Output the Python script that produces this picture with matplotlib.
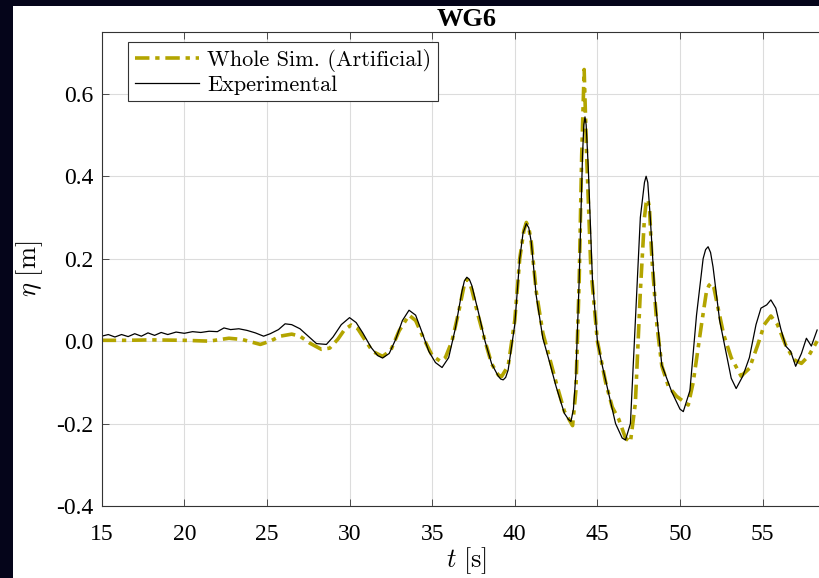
import matplotlib
matplotlib.use('Agg')
import matplotlib.pyplot as plt
from matplotlib.patches import Rectangle

# Experimental record (black)
t_exp = [15.0, 15.4, 15.8, 16.2, 16.6, 17.0, 17.4, 17.8, 18.2, 18.6, 19.0, 19.5, 20.0, 20.5,
         21.0, 21.5, 22.0, 22.4, 22.8, 23.3, 23.8, 24.3, 24.8, 25.2, 25.7, 26.1, 26.5, 27.0,
         27.5, 28.0, 28.6, 29.0, 29.5, 30.0, 30.4, 30.8, 31.3, 31.7, 32.0, 32.4, 32.8, 33.2,
         33.6, 34.0, 34.4, 34.8, 35.2, 35.6, 36.0, 36.4, 36.8, 36.95, 37.1, 37.25, 37.4, 37.8,
         38.2, 38.6, 39.0, 39.15, 39.3, 39.45, 39.6, 40.0, 40.3, 40.5, 40.7, 40.85, 41.0, 41.3,
         41.7, 42.1, 42.5, 43.0, 43.25, 43.4, 43.55, 43.7, 43.9, 44.1, 44.18, 44.25, 44.32,
         44.45, 44.7, 45.0, 45.3, 45.7, 46.1, 46.5, 46.7, 47.0, 47.3, 47.6, 47.85, 47.95, 48.05,
         48.2, 48.5, 48.9, 49.5, 50.0, 50.2, 50.6, 51.0, 51.4, 51.55, 51.7, 51.85, 52.0, 52.4,
         52.8, 53.1, 53.4, 53.8, 54.2, 54.6, 54.9, 55.25, 55.5, 55.8, 56.1, 56.4, 56.7, 57.0,
         57.35, 57.65, 57.95, 58.3]
eta_exp = [0.012, 0.016, 0.010, 0.016, 0.011, 0.018, 0.012, 0.020, 0.014, 0.021, 0.016, 0.022,
           0.019, 0.023, 0.021, 0.024, 0.023, 0.032, 0.028, 0.030, 0.026, 0.020, 0.012, 0.018,
           0.028, 0.042, 0.040, 0.030, 0.012, -0.006, -0.008, 0.010, 0.040, 0.057, 0.045, 0.020,
           -0.015, -0.035, -0.041, -0.030, 0.005, 0.050, 0.075, 0.063, 0.020, -0.025, -0.052,
           -0.064, -0.040, 0.030, 0.120, 0.146, 0.155, 0.150, 0.135, 0.070, 0.000, -0.055,
           -0.085, -0.092, -0.094, -0.088, -0.070, 0.040, 0.200, 0.262, 0.285, 0.275, 0.240,
           0.110, 0.007, -0.050, -0.110, -0.175, -0.190, -0.195, -0.165, -0.080, 0.150, 0.450,
           0.525, 0.544, 0.525, 0.420, 0.150, 0.000, -0.060, -0.130, -0.200, -0.235, -0.240,
           -0.200, 0.050, 0.300, 0.385, 0.400, 0.385, 0.300, 0.100, -0.058, -0.123, -0.165,
           -0.171, -0.120, 0.063, 0.200, 0.222, 0.229, 0.215, 0.180, 0.050, -0.030, -0.090,
           -0.115, -0.085, -0.040, 0.040, 0.080, 0.088, 0.100, 0.080, 0.030, -0.012, -0.025,
           -0.061, -0.030, 0.007, -0.012, 0.027]

# Whole simulation, artificial (yellow)
t_sim = [15.0, 16.5, 18.0, 20.0, 21.5, 22.7, 23.5, 24.6, 25.2, 25.8, 26.5, 27.0, 27.6, 28.3,
         28.8, 29.3, 29.7, 30.1, 30.5, 30.9, 31.4, 32.0, 32.5, 33.0, 33.6, 34.0, 34.5, 35.0,
         35.5, 35.8, 36.2, 36.6, 36.95, 37.1, 37.25, 37.4, 37.8, 38.2, 38.6, 39.0, 39.2, 39.6,
         40.0, 40.3, 40.55, 40.7, 40.85, 41.0, 41.3, 41.7, 42.1, 42.5, 43.0, 43.5, 43.7, 43.9,
         44.05, 44.2, 44.35, 44.6, 45.0, 45.5, 45.9, 46.3, 46.7, 47.0, 47.3, 47.6, 47.85, 47.95,
         48.05, 48.15, 48.3, 48.6, 48.9, 49.3, 49.8, 50.5, 50.8, 51.3, 51.6, 51.75, 51.9, 52.05,
         52.2, 52.65, 53.1, 53.7, 54.2, 54.7, 55.1, 55.5, 55.9, 56.4, 56.9, 57.35, 57.8, 58.3]
eta_sim = [0.002, 0.002, 0.003, 0.002, 0.000, 0.007, 0.004, -0.008, 0.000, 0.012, 0.017, 0.012,
           -0.005, -0.020, -0.017, 0.005, 0.028, 0.039, 0.030, 0.005, -0.025, -0.037, -0.022,
           0.025, 0.063, 0.050, 0.005, -0.035, -0.049, -0.040, 0.000, 0.070, 0.138, 0.150,
           0.143, 0.125, 0.060, 0.000, -0.055, -0.082, -0.086, -0.060, 0.050, 0.200, 0.268,
           0.288, 0.275, 0.240, 0.120, 0.020, -0.040, -0.100, -0.170, -0.205, -0.120, 0.150,
           0.450, 0.659, 0.450, 0.180, 0.000, -0.100, -0.160, -0.190, -0.235, -0.245, -0.150,
           0.120, 0.300, 0.335, 0.344, 0.325, 0.200, 0.040, -0.060, -0.110, -0.134, -0.155,
           -0.100, 0.040, 0.120, 0.135, 0.141, 0.130, 0.100, 0.015, -0.040, -0.085, -0.066,
           -0.010, 0.040, 0.061, 0.040, -0.010, -0.045, -0.054, -0.035, 0.000]

x_ticks = [15, 20, 25, 30, 35, 40, 45, 50, 55]
y_ticks = [-0.4, -0.2, 0.0, 0.2, 0.4, 0.6]
y_tick_labels = ['-0.4', '-0.2', '0.0', '0.2', '0.4', '0.6']

plt.rcParams['font.family'] = ['Liberation Serif', 'DejaVu Serif']
plt.rcParams['mathtext.fontset'] = 'cm'

fig = plt.figure(figsize=(8.19, 5.78), dpi=100)
fig.patch.set_facecolor('#05051a')
fig.add_artist(Rectangle((13 / 819, 0), 1 - 13 / 819, 1 - 6 / 578, transform=fig.transFigure,
                         facecolor='white', edgecolor='none', zorder=-1))

ax = fig.add_axes([101.7 / 819, 1 - 506 / 578, 730.3 / 819, 474 / 578])
ax.plot(t_sim, eta_sim, color='#b3a500', lw=2.6, ls='-.', dashes=(4, 1.6, 1.2, 1.6),
        label='Whole Sim. (Artificial)')
ax.plot(t_exp, eta_exp, color='black', lw=0.9, label='Experimental')

ax.set_xlim(15, 59.2)
ax.set_ylim(-0.4, 0.75)
ax.set_xticks(x_ticks)
ax.set_yticks(y_ticks)
ax.set_yticklabels(y_tick_labels)
ax.tick_params(direction='in', top=True, right=True, labelsize=17, length=5, width=0.6,
               color='#333333')
ax.tick_params(axis='x', pad=13)
ax.tick_params(axis='y', pad=6)
ax.grid(True, color='#dcdcdc', lw=0.8)
for s in ax.spines.values():
    s.set_color('#333333')
    s.set_linewidth(0.8)

ax.set_title('WG6', fontsize=19, fontweight='bold', pad=4)
ax.set_xlabel(r'$t\ [\mathrm{s}]$', fontsize=19, labelpad=0)
ax.set_ylabel(r'$\eta\ [\mathrm{m}]$', fontsize=19, labelpad=8)

leg = ax.legend(loc='upper left', bbox_to_anchor=(128 / 819, 1 - 42 / 578),
                bbox_transform=fig.transFigure, borderaxespad=0,
                prop={'family': 'cmr10', 'size': 16},
                fancybox=False, framealpha=1, edgecolor='#333333', handlelength=2.9,
                labelspacing=0.15, borderpad=0.3, handletextpad=0.35)
leg.get_frame().set_linewidth(0.8)

fig.savefig('out.png', dpi=100, facecolor=fig.get_facecolor())
